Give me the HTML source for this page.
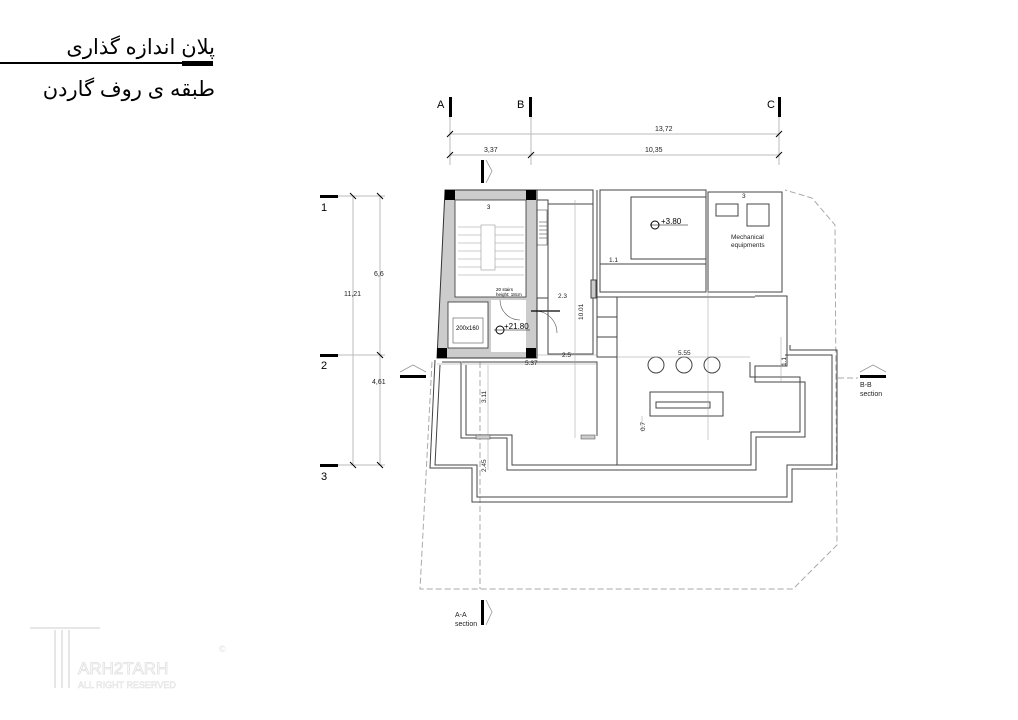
<!DOCTYPE html>
<html><head><meta charset="utf-8"><style>
html,body{margin:0;padding:0;background:#fff;}
svg{display:block;}
text{font-family:"Liberation Sans",sans-serif;}
</style></head><body>
<svg width="1018" height="720" viewBox="0 0 1018 720" xmlns="http://www.w3.org/2000/svg">
<!-- title -->
<text x="215" y="54" font-size="21" text-anchor="end" font-family="'Liberation Sans','DejaVu Sans',sans-serif">پلان اندازه گذاری</text>
<rect x="0" y="62" width="212" height="2" fill="#000"/>
<rect x="182" y="61" width="31" height="5" fill="#000"/>
<text x="215" y="96" font-size="21" text-anchor="end" font-family="'Liberation Sans','DejaVu Sans',sans-serif">طبقه ی روف گاردن</text>

<!-- grid axes top -->
<g stroke="#bbb" stroke-width="1" fill="none">
<line x1="450" y1="117" x2="450" y2="165"/><line x1="531" y1="117" x2="531" y2="165"/><line x1="779" y1="117" x2="779" y2="165"/>
<line x1="450" y1="134" x2="779" y2="134"/><line x1="450" y1="155" x2="779" y2="155"/>
<line x1="320" y1="196" x2="385" y2="196"/><line x1="320" y1="355" x2="385" y2="355"/><line x1="320" y1="465" x2="385" y2="465"/>
<line x1="353" y1="196" x2="353" y2="465"/><line x1="380" y1="196" x2="380" y2="465"/>
</g>
<g stroke="#000" stroke-width="1">
<line x1="447" y1="137" x2="453" y2="131"/><line x1="776" y1="137" x2="782" y2="131"/>
<line x1="447" y1="158" x2="453" y2="152"/><line x1="528" y1="158" x2="534" y2="152"/><line x1="776" y1="158" x2="782" y2="152"/>
<line x1="350" y1="193" x2="356" y2="199"/><line x1="377" y1="193" x2="383" y2="199"/><line x1="377" y1="352" x2="383" y2="358"/>
<line x1="350" y1="462" x2="356" y2="468"/><line x1="377" y1="462" x2="383" y2="468"/>
</g>
<g fill="#000">
<rect x="449" y="97" width="3" height="20"/><rect x="529" y="97" width="3" height="20"/><rect x="778" y="97" width="3" height="20"/>
<rect x="320" y="195" width="18" height="3"/><rect x="320" y="354" width="18" height="3"/><rect x="320" y="464" width="18" height="3"/>
<rect x="481" y="160" width="3" height="23"/><rect x="481" y="600" width="3" height="25"/>
<rect x="400" y="375" width="26" height="3"/><rect x="860" y="375" width="26" height="3"/>
</g>
<g stroke="#999" fill="none" stroke-width="0.8">
<polyline points="486,160 492,171 486,183"/><polyline points="486,600 492,612 486,625"/>
<polyline points="400,372 413,365 426,372"/><polyline points="860,372 873,365 886,372"/>
</g>
<g font-size="11">
<text x="437" y="108">A</text><text x="517" y="108">B</text><text x="767" y="108">C</text>
<text x="321" y="211">1</text><text x="321" y="369">2</text><text x="321" y="480">3</text>
</g>
<g font-size="7" fill="#222">
<text x="655" y="131">13,72</text><text x="484" y="152">3,37</text><text x="645" y="152">10,35</text>
<text x="344" y="296">11,21</text><text x="374" y="276">6,6</text><text x="372" y="384">4,61</text>
<text x="860" y="387">B-B</text><text x="860" y="396">section</text>
<text x="455" y="617">A-A</text><text x="455" y="626">section</text>
</g>

<!-- dashed site boundary -->
<g stroke="#aaa" stroke-width="1" fill="none" stroke-dasharray="6,3">
<polyline points="432,362 420,589 793,589 837,545 835,225 812,198 785,190"/>
<line x1="480" y1="362" x2="480" y2="589"/>
<line x1="838" y1="378" x2="858" y2="378"/>
</g>

<!-- terrace outlines -->
<g stroke="#444" stroke-width="1" fill="none">
<polyline points="435,360 430,468 472,468 472,502 792,502 792,469 837,469 837,350 790,350 790,345"/>
<polyline points="440,365 435,465 477,465 477,497 787,497 787,465 832,465 832,355 785,355"/>
<polyline points="442,362 461,362 461,438 507,438 507,470 756,470 756,437 805,437 805,382 755,382 755,366 787,366 787,296 755,296"/>
<polyline points="466,365 466,435 512,435 512,465 751,465 751,432 800,432 800,377 750,377 750,362"/>
<polyline points="462,362 597,362 597,436"/>
</g>

<!-- stair core grey -->
<polygon points="445,190 537,190 537,358 437,358" fill="#ccc" stroke="#333" stroke-width="1"/>
<rect x="455" y="200" width="71" height="97" fill="#fff" stroke="#333" stroke-width="0.8"/>
<rect x="448" y="302" width="40" height="46" fill="#fff" stroke="#333" stroke-width="0.8"/>
<rect x="453" y="318" width="30" height="25" fill="none" stroke="#555" stroke-width="0.6"/>
<rect x="491" y="300" width="35" height="52" fill="#fff"/>
<g fill="#000">
<rect x="445" y="190" width="10" height="10"/><rect x="526" y="190" width="10" height="10"/>
<rect x="437" y="348" width="10" height="10"/><rect x="526" y="348" width="10" height="10"/>
</g>
<g stroke="#999" stroke-width="0.6">
<line x1="458" y1="227" x2="524" y2="227"/><line x1="458" y1="235" x2="524" y2="235"/><line x1="458" y1="243" x2="524" y2="243"/>
<line x1="458" y1="251" x2="524" y2="251"/><line x1="458" y1="259" x2="524" y2="259"/><line x1="458" y1="267" x2="524" y2="267"/>
<line x1="458" y1="275" x2="524" y2="275"/><rect x="481" y="225" width="14" height="45" fill="#fff"/>
</g>
<text x="487" y="209" font-size="6">3</text>
<text x="496" y="291" font-size="4.5">20 stairs</text><text x="496" y="296" font-size="4.5">height: 18cm</text>
<text x="456" y="330" font-size="6">200x160</text>
<circle cx="500" cy="330" r="4" fill="none" stroke="#000"/><line x1="494" y1="330" x2="530" y2="330" stroke="#000" stroke-width="0.6"/>
<text x="504" y="329" font-size="8">+21.80</text>
<g stroke="#555" fill="none" stroke-width="0.6">
<path d="M500 300 A20 20 0 0 0 520 320"/><path d="M537 311 A22 22 0 0 1 557 333"/>
<line x1="531" y1="311" x2="560" y2="311" stroke="#000" stroke-width="1.2"/>
</g>

<!-- middle section -->
<g stroke="#444" stroke-width="1" fill="none">
<polyline points="537,190 593,190 593,297"/><line x1="597" y1="190" x2="597" y2="297" />
<rect x="548" y="204" width="45" height="150"/>
<rect x="537" y="200" width="11" height="98"/>
<rect x="600" y="190" width="106" height="102"/>
<rect x="631" y="197" width="75" height="62"/>
<rect x="600" y="264" width="106" height="28"/>
<rect x="708" y="192" width="74" height="100"/>
<rect x="716" y="204" width="22" height="12"/><rect x="747" y="204" width="22" height="22"/>
<rect x="597" y="297" width="20" height="20"/><rect x="597" y="317" width="20" height="20"/><rect x="597" y="337" width="20" height="20"/>
<rect x="650" y="392" width="73" height="24"/><rect x="656" y="402" width="54" height="6"/>
<line x1="617" y1="297" x2="617" y2="465"/><line x1="597" y1="297" x2="755" y2="297"/>
<rect x="591" y="280" width="5" height="18" fill="#ccc"/>
</g>
<g fill="#444"><rect x="537" y="210" width="10" height="35" fill="none" stroke="#333" stroke-width="0.5"/></g>
<g stroke="#333" stroke-width="0.5"><line x1="539" y1="222" x2="547" y2="222"/><line x1="539" y1="226" x2="547" y2="226"/><line x1="539" y1="230" x2="547" y2="230"/><line x1="539" y1="234" x2="547" y2="234"/><line x1="539" y1="238" x2="547" y2="238"/></g>
<g fill="none" stroke="#444"><circle cx="656" cy="365" r="8"/><circle cx="684" cy="365" r="8"/><circle cx="712" cy="365" r="8"/></g>
<g stroke="#999" stroke-width="0.5">
<line x1="437" y1="364" x2="597" y2="364"/><line x1="537" y1="355" x2="597" y2="355"/><line x1="617" y1="357" x2="750" y2="357"/>
<line x1="575" y1="200" x2="575" y2="438"/><line x1="708" y1="290" x2="708" y2="440"/><line x1="642" y1="416" x2="642" y2="432"/>
<line x1="488" y1="365" x2="488" y2="470"/><line x1="781" y1="382" x2="781" y2="337"/>
</g>
<rect x="476" y="435" width="14" height="4" fill="#ccc" stroke="#444" stroke-width="0.5"/>
<rect x="581" y="435" width="14" height="4" fill="#ccc" stroke="#444" stroke-width="0.5"/>
<circle cx="655" cy="225" r="4" fill="none" stroke="#000"/><line x1="650" y1="225" x2="688" y2="225" stroke="#000" stroke-width="0.6"/>
<text x="661" y="224" font-size="8">+3.80</text>
<g font-size="6.5" fill="#222">
<text x="731" y="239">Mechanical</text><text x="731" y="247">equipments</text>
<text x="742" y="198">3</text><text x="609" y="262">1.1</text><text x="558" y="298">2.3</text>
<text x="562" y="357">2.5</text><text x="525" y="365">5.37</text><text x="678" y="355">5.55</text>
</g>
<g font-size="6.5" fill="#222">
<text transform="translate(583,320) rotate(-90)">10.01</text>
<text transform="translate(486,403) rotate(-90)">3.11</text>
<text transform="translate(486,472) rotate(-90)">2.45</text>
<text transform="translate(645,431) rotate(-90)">0.7</text>
<text transform="translate(786,366) rotate(-90)">1.1</text>
</g>

<!-- watermark -->
<g fill="none" stroke="#e6e6e6" stroke-width="2">
<line x1="30" y1="628" x2="100" y2="628"/><line x1="55" y1="630" x2="55" y2="688"/><line x1="62" y1="630" x2="62" y2="688"/><line x1="69" y1="630" x2="69" y2="688"/>
</g>
<text x="78" y="674" font-size="17" fill="#fff" stroke="#e0e0e0" stroke-width="0.8">ARH2TARH</text>
<text x="78" y="688" font-size="9" fill="#fff" stroke="#e0e0e0" stroke-width="0.5">ALL RIGHT RESERVED</text>
<text x="219" y="652" font-size="9" fill="#ddd">©</text>
</svg>
</body></html>
